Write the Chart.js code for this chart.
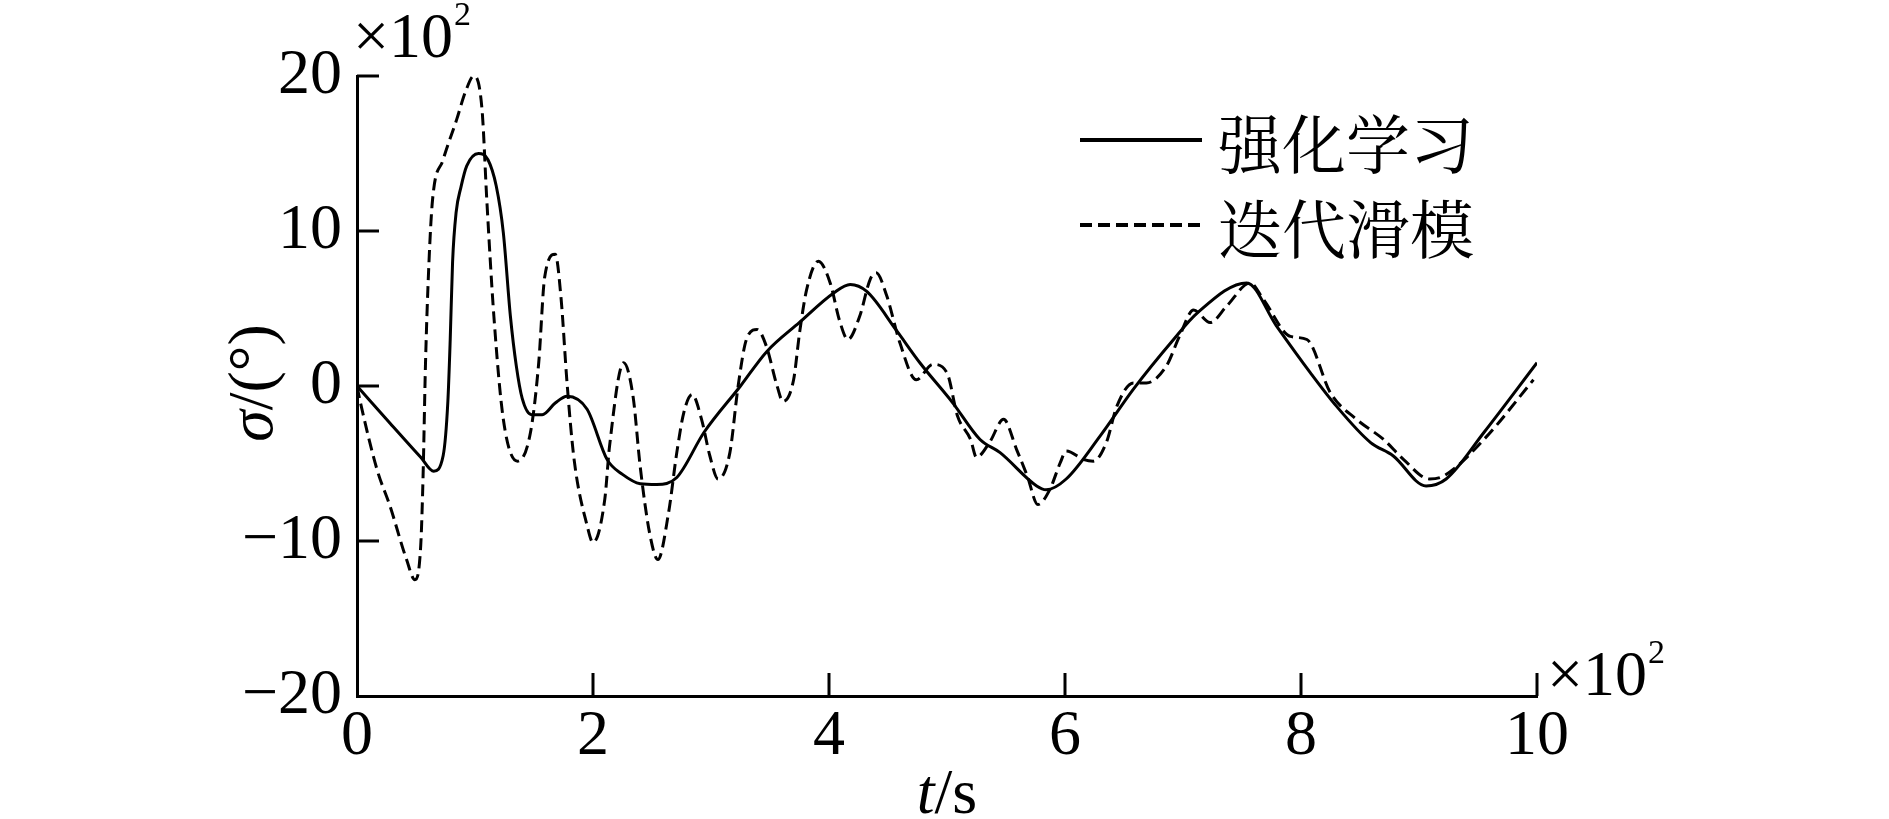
<!DOCTYPE html>
<html>
<head>
<meta charset="utf-8" />
<title>sigma</title>
<script src="https://cdn.jsdelivr.net/npm/chart.js"></script>
<style>
  body { margin: 0; background: #fff; }
</style>
</head>
<body>
<canvas id="joonis" width="1889" height="819"></canvas>
<script>
// series names
const nimed = ["强化学习", "迭代滑模"];

// 强化学习 (solid)
const t1 = [0, 0.28, 0.54, 0.65, 0.73, 0.77, 0.79, 0.81, 0.84, 0.88,
  0.93, 1.03, 1.11, 1.18, 1.24, 1.30, 1.35, 1.40, 1.48, 1.57,
  1.68, 1.78, 1.95, 2.12, 2.25, 2.40, 2.54, 2.71, 2.94, 3.25,
  3.47, 3.75, 4.04, 4.18, 4.32, 4.57, 4.77, 5.05, 5.28, 5.45,
  5.76, 5.84, 6.01, 6.30, 6.58, 6.92, 7.12, 7.54, 7.79, 8.08,
  8.30, 8.59, 8.78, 9.06, 9.23, 9.55, 10.0];
const s1 = [0, -2.4, -4.6, -5.5, -4.5, -1.0, 3.0, 8.0, 11.2, 12.8,
  14.2, 15.0, 14.6, 12.9, 9.9, 4.5, 1.3, -0.8, -1.85, -1.85,
  -1.1, -0.66, -1.5, -4.75, -5.7, -6.3, -6.35, -5.9, -3.0, 0,
  2.2, 4.1, 6.0, 6.55, 6.1, 3.6, 1.5, -1.1, -3.45, -4.3,
  -6.45, -6.7, -6.0, -3.2, -0.2, 3.0, 4.7, 6.65, 3.9, 0.85,
  -1.3, -3.65, -4.5, -6.45, -6.0, -3.0, 1.5];

// 迭代滑模 (dashed)
const t2 = [0, 0.03, 0.17, 0.28, 0.42, 0.49, 0.54, 0.56, 0.58, 0.61,
  0.64, 0.73, 0.845, 0.92, 0.99, 1.06, 1.10, 1.16, 1.24, 1.36,
  1.47, 1.54, 1.59, 1.68, 1.73, 1.78, 1.84, 1.95, 2.00, 2.10,
  2.14, 2.26, 2.34, 2.40, 2.48, 2.55, 2.64, 2.71, 2.77, 2.84,
  2.92, 2.99, 3.06, 3.16, 3.23, 3.30, 3.39, 3.47, 3.56, 3.61,
  3.70, 3.75, 3.81, 3.91, 4.01, 4.09, 4.16, 4.26, 4.35, 4.40,
  4.49, 4.60, 4.74, 4.88, 5.00, 5.09, 5.20, 5.25, 5.36, 5.48,
  5.59, 5.68, 5.77, 5.87, 5.96, 6.01, 6.16, 6.24, 6.35, 6.44,
  6.58, 6.69, 6.86, 6.97, 7.09, 7.23, 7.37, 7.57, 7.68, 7.91,
  8.05, 8.25, 8.47, 8.70, 8.87, 9.09, 9.21, 9.55, 9.97];
const s2 = [0, -1.1, -5.4, -7.75, -11.2, -12.5, -10.3, -5.8, 1.3, 8.0,
  12.0, 14.6, 17.2, 19.0, 20.0, 17.8, 12.0, 4.5, -2.15, -4.85,
  -3.0, 1.5, 7.0, 8.5, 5.6, 0.2, -4.75, -9.0, -10.1, -7.3,
  -3.9, 1.5, -0.7, -5.2, -9.5, -11.2, -8.2, -4.3, -1.7, -0.55,
  -2.15, -4.5, -6.0, -4.3, 0, 3.0, 3.65, 2.55, 0, -1.0,
  0.4, 3.4, 6.2, 8.05, 6.65, 4.2, 3.0, 4.5, 6.9, 7.3,
  5.8, 2.8, 0.4, 1.4, 0.85, -1.95, -3.45, -4.6, -3.65, -2.15,
  -4.1, -5.8, -7.65, -6.7, -4.95, -4.2, -4.75, -4.85, -3.65, -1.3,
  0.2, 0.2, 1.3, 3.2, 4.9, 4.1, 5.15, 6.65, 5.6, 3.2,
  3.0, -0.45, -2.15, -3.45, -4.75, -6.0, -5.8, -3.45, 0.4];

// axis ticks
const xTicks = [0, 2, 4, 6, 8, 10];
const yTicks = [-20, -10, 0, 10, 20];

const serif = "'Liberation Serif', 'Times New Roman', serif";
const cjk = "'Noto Serif CJK SC', 'Noto Sans CJK SC', sans-serif";

function punktid(t, s) {
  return t.map((v, i) => ({x: v, y: s[i]}));
}

// inward ticks, multipliers, axis titles, legend
const lisad = {
  id: "lisad",
  afterDraw(chart) {
    const ctx = chart.ctx;
    const xs = chart.scales.x, ys = chart.scales.y;
    const a = chart.chartArea;
    ctx.save();
    ctx.strokeStyle = "#000";
    ctx.fillStyle = "#000";
    ctx.lineWidth = 3;
    ctx.setLineDash([]);
    xTicks.forEach(v => {
      if (v === xTicks[0]) return;
      const px = xs.getPixelForValue(v);
      ctx.beginPath(); ctx.moveTo(px, a.bottom); ctx.lineTo(px, a.bottom - 23); ctx.stroke();
    });
    yTicks.forEach(v => {
      if (v === yTicks[0]) return;
      const py = ys.getPixelForValue(v);
      ctx.beginPath(); ctx.moveTo(a.left, py); ctx.lineTo(a.left + 22, py); ctx.stroke();
    });

    // ×10^2
    function kordaja(x, y) {
      ctx.textAlign = "left";
      ctx.textBaseline = "alphabetic";
      ctx.font = "64px " + serif;
      ctx.fillText("×10", x, y);
      const w = ctx.measureText("×10").width;
      ctx.font = "34px " + serif;
      ctx.fillText("2", x + w + 1, y - 32);
    }
    kordaja(a.left - 4, a.top - 19);
    kordaja(a.right + 10, a.bottom - 1);

    // x title: t/s
    ctx.font = "italic 64px " + serif;
    const wt = ctx.measureText("t").width;
    ctx.font = "64px " + serif;
    const ws = ctx.measureText("/s").width;
    const cx = (a.left + a.right) / 2;
    let x0 = cx - (wt + ws) / 2;
    ctx.textAlign = "left";
    ctx.font = "italic 64px " + serif;
    ctx.fillText("t", x0, 813);
    ctx.font = "64px " + serif;
    ctx.fillText("/s", x0 + wt, 813);

    // y title: σ/(°)
    ctx.save();
    ctx.translate(272, (a.top + a.bottom) / 2 - 3);
    ctx.rotate(-Math.PI / 2);
    ctx.font = "italic 64px " + serif;
    const wg = ctx.measureText("σ").width;
    ctx.font = "64px " + serif;
    const wr = ctx.measureText("/(°)").width;
    x0 = -(wg + wr) / 2;
    ctx.font = "italic 64px " + serif;
    ctx.fillText("σ", x0, 0);
    ctx.font = "64px " + serif;
    ctx.fillText("/(°)", x0 + wg, 0);
    ctx.restore();

    // legend
    const ly = [140, 225];
    chart.data.datasets.forEach((d, i) => {
      ctx.lineWidth = 4;
      ctx.setLineDash(d.borderDash || []);
      ctx.beginPath(); ctx.moveTo(1080, ly[i]); ctx.lineTo(1202, ly[i]); ctx.stroke();
      ctx.setLineDash([]);
      ctx.font = "64px " + cjk;
      ctx.textBaseline = "middle";
      ctx.fillText(d.label, 1218, ly[i] + 4);
    });
    ctx.restore();
  }
};

new Chart(document.getElementById("joonis"), {
  type: "line",
  data: {
    datasets: [
      {
        label: nimed[0],
        data: punktid(t1, s1),
        borderColor: "#000",
        borderWidth: 3,
        pointRadius: 0,
        cubicInterpolationMode: "monotone",
        fill: false
      },
      {
        label: nimed[1],
        data: punktid(t2, s2),
        borderColor: "#000",
        borderWidth: 3,
        borderDash: [12, 6],
        pointRadius: 0,
        cubicInterpolationMode: "monotone",
        fill: false
      }
    ]
  },
  options: {
    responsive: false,
    animation: false,
    devicePixelRatio: 1,
    layout: { padding: { left: 0, right: 352, top: 76, bottom: 0 } },
    plugins: { legend: { display: false }, tooltip: { enabled: false } },
    scales: {
      x: {
        type: "linear",
        min: 0, max: 10,
        afterBuildTicks: s => { s.ticks = xTicks.map(v => ({value: v})); },
        afterFit: s => { s.height = 123; },
        grid: { display: true, drawOnChartArea: false, drawTicks: false },
        border: { display: true, color: "#000", width: 3 },
        ticks: { color: "#000", font: { family: serif, size: 64 }, padding: 3, maxRotation: 0, autoSkip: false }
      },
      y: {
        min: -20, max: 20,
        afterBuildTicks: s => { s.ticks = yTicks.map(v => ({value: v})); },
        afterFit: s => { s.width = 357; },
        grid: { display: true, drawOnChartArea: false, drawTicks: false },
        border: { display: true, color: "#000", width: 3 },
        ticks: {
          color: "#000", font: { family: serif, size: 64 }, padding: 15, autoSkip: false,
          callback: v => String(v).replace("-", "\u2212")
        }
      }
    }
  },
  plugins: [lisad]
});
</script>
</body>
</html>
